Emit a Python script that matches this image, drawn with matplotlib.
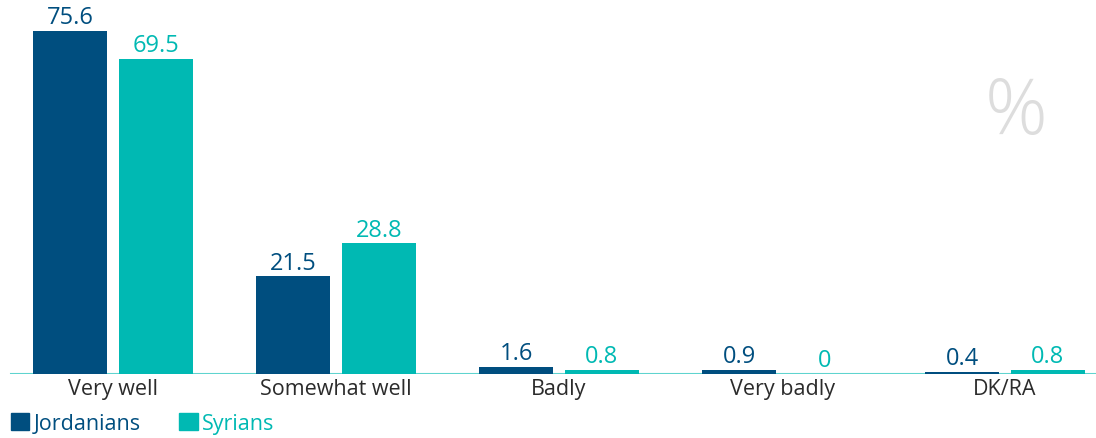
import numpy as np
import matplotlib
matplotlib.use("Agg")
import matplotlib.pyplot as plt
from matplotlib.patches import Patch

plt.rcParams['font.family'] = ['Open Sans', 'DejaVu Sans']

# data
categorias = ["Very well", "Somewhat well", "Badly", "Very badly", "DK/RA"]
jordanians = [75.6, 21.5, 1.6, 0.9, 0.4]
syrians = [69.5, 28.8, 0.8, 0, 0.8]
series_names = ["Jordanians", "Syrians"]

cor_j = "#004e7f"
cor_s = "#00b9b3"

fig = plt.figure(figsize=(10.96, 4.39), dpi=100)
ax = fig.add_axes([0.0, 0.146, 1.0, 0.854])

x = np.arange(len(categorias))
w = 0.332
off = 0.385 / 2

ax.bar(x - off, jordanians, width=w, color=cor_j)
ax.bar(x + off, syrians, width=w, color=cor_s)

for xi, v in zip(x - off, jordanians):
    ax.text(xi, v + 0.4, f"{v:g}", ha="center", va="bottom", fontsize=17, color=cor_j)
for xi, v in zip(x + off, syrians):
    ax.text(xi, v + 0.4, f"{v:g}", ha="center", va="bottom", fontsize=17, color=cor_s)

ax.set_xlim(-0.507, 4.408)
ax.set_ylim(0, 82.7)
ax.axhline(0, xmin=11/1096, color="#5fd4cf", lw=1.5, zorder=0)

ax.set_xticks(x)
ax.set_xticklabels(categorias, fontsize=15.5, color="#2b2b2b")
ax.tick_params(axis="x", length=0, pad=3)
ax.set_yticks([])
for s in ax.spines.values():
    s.set_visible(False)

ax.text(0.927, 0.695, "%", transform=ax.transAxes, fontsize=56, color="#dddddd",
        ha="center", va="center", fontweight="light")

handles = [Patch(color=cor_j), Patch(color=cor_s)]
leg = fig.legend(handles, series_names, loc="lower left", bbox_to_anchor=(0.004, -0.005),
                 ncol=2, frameon=False, fontsize=15.5, handlelength=0.85, handleheight=0.85,
                 handletextpad=0.2, columnspacing=1.8, borderaxespad=0.0, borderpad=0.3)
for t, c in zip(leg.get_texts(), [cor_j, cor_s]):
    t.set_color(c)

fig.savefig("out.png", dpi=100)
